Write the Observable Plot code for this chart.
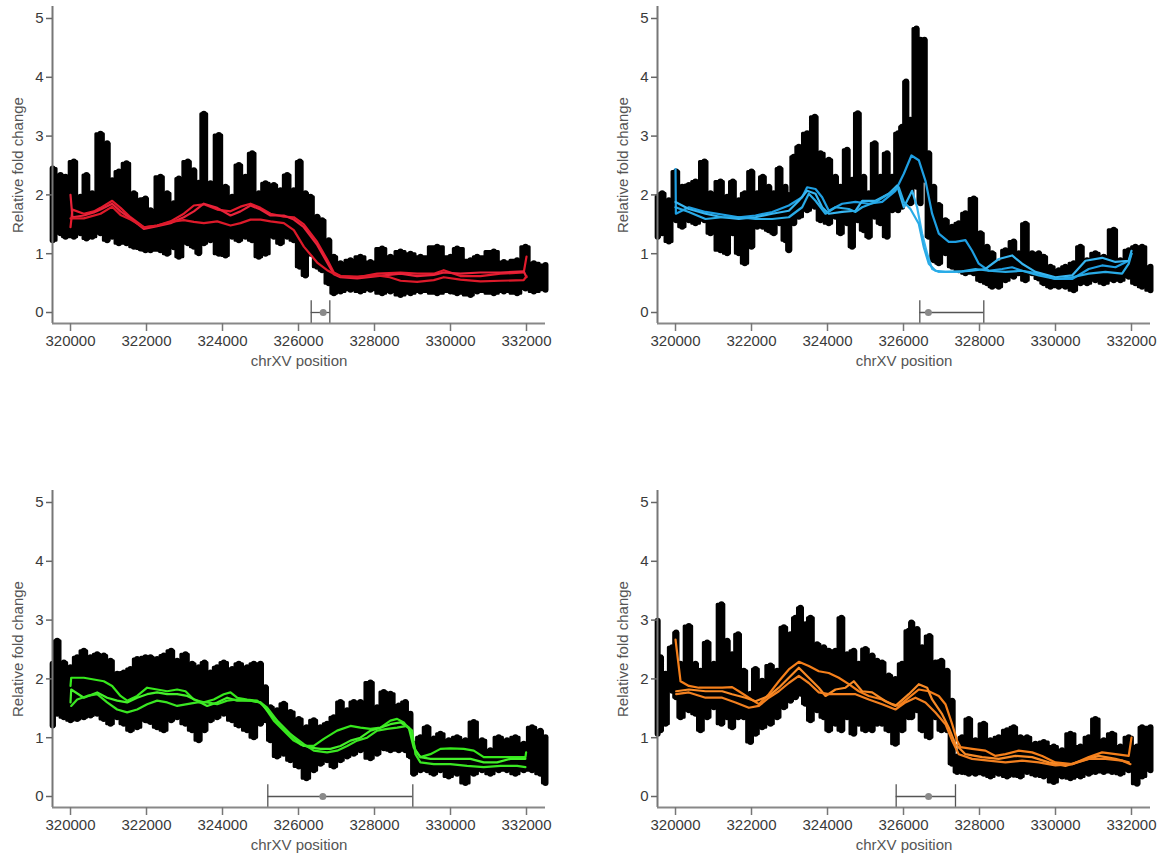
<!DOCTYPE html>
<html>
<head>
<meta charset="utf-8">
<script src="https://cdn.jsdelivr.net/npm/d3@7"></script>
<script src="https://cdn.jsdelivr.net/npm/@observablehq/plot@0.6"></script>
<style>
  html, body { margin: 0; padding: 0; background: #fff; }
  #wrap { position: relative; width: 1167px; height: 857px; overflow: hidden; background: #fff; }
  .panel { position: absolute; }
</style>
</head>
<body>
<div id="wrap"></div>
<script>
// ---------- shared labels / ticks ----------
const xTicks = [320000, 322000, 324000, 326000, 328000, 330000, 332000];
const yTicks = [0, 1, 2, 3, 4, 5];
const xLabel = "chrXV position";
const yLabel = "Relative fold change";

// ---------- panel 1 (red) ----------
// raw signal envelope: [position, low, high]
const p1Env = [
  [319530,1.22,2.44],[319737,1.34,2.33],[319869,1.28,2.30],[320088,1.28,2.56],[320263,1.34,1.96],
  [320421,1.25,2.33],[320570,1.28,2.02],[320790,1.34,3.03],[320965,1.22,2.87],[321097,1.28,2.24],
  [321272,1.17,2.39],[321474,1.17,2.53],[321667,1.11,2.02],[321842,1.08,1.90],[321974,1.05,1.93],
  [322105,1.05,1.73],[322368,1.05,2.30],[322544,0.99,2.02],[322719,1.10,1.85],[322851,0.94,2.27],
  [323088,1.17,2.56],[323246,1.11,2.41],[323377,1.00,2.20],[323509,1.17,3.37],[323684,1.22,2.19],
  [323904,0.99,3.01],[324079,0.96,2.13],[324254,1.28,1.96],[324430,1.22,2.50],[324605,1.28,2.30],
  [324781,1.22,2.70],[324956,0.94,2.02],[325132,0.99,2.19],[325351,1.28,2.16],[325526,1.17,2.07],
  [325702,1.28,2.33],[325877,1.22,2.07],[326035,0.77,2.56],[326184,0.62,2.02],[326316,0.99,1.96],
  [326491,0.77,1.62],[326623,0.71,1.56],[326798,0.49,1.22],[326930,0.32,0.94],[327105,0.35,0.83],
  [327368,0.38,0.88],[327630,0.35,0.94],[327893,0.38,0.85],[328200,0.32,1.08],[328420,0.35,0.94],
  [328684,0.29,1.03],[328948,0.32,0.99],[329211,0.35,0.94],[329649,0.32,1.11],[330000,0.35,0.94],
  [330175,0.32,1.08],[330526,0.29,0.88],[330702,0.35,0.94],[331140,0.32,1.03],[331404,0.35,0.85],
  [331754,0.32,0.88],[331973,0.40,1.11],[332193,0.35,0.83],[332500,0.38,0.80]
];
const p1Line1 = [
  [320000,1.45],[320050,1.75],[320350,1.68],[320614,1.72],[320790,1.78],[321097,1.90],[321316,1.78],
  [321579,1.62],[321930,1.45],[322281,1.48],[322632,1.55],[322982,1.68],[323246,1.82],[323509,1.84],
  [323860,1.75],[324210,1.72],[324473,1.80],[324737,1.85],[325000,1.78],[325263,1.68],[325614,1.63],
  [325877,1.62],[326140,1.50],[326491,1.20],[326754,0.90],[326930,0.68],[327105,0.62],[327544,0.60],
  [328070,0.66],[328684,0.68],[329121,0.66],[329560,0.66],[329823,0.72],[330261,0.62],[330787,0.62],
  [331314,0.66],[331927,0.68],[332000,0.95]
];
const p1Line2 = [
  [320000,2.00],[320050,1.62],[320351,1.65],[320614,1.70],[320790,1.75],[321097,1.85],[321316,1.72],
  [321579,1.60],[321930,1.42],[322281,1.47],[322632,1.52],[322982,1.62],[323246,1.72],[323509,1.85],
  [323860,1.78],[324210,1.65],[324473,1.72],[324737,1.82],[325000,1.75],[325263,1.65],[325614,1.65],
  [325877,1.58],[326140,1.45],[326491,1.15],[326754,0.85],[326930,0.65],[327105,0.60],[327544,0.58],
  [328070,0.62],[328684,0.66],[329121,0.62],[329560,0.64],[329823,0.68],[330261,0.66],[330787,0.68],
  [331314,0.68],[331927,0.70],[332000,0.60]
];
const p1Line3 = [
  [320000,1.60],[320351,1.60],[320790,1.68],[321097,1.80],[321316,1.66],[321579,1.58],[321930,1.45],
  [322281,1.48],[322632,1.54],[322982,1.57],[323246,1.54],[323509,1.52],[323860,1.55],[324210,1.48],
  [324473,1.52],[324737,1.58],[325000,1.58],[325263,1.55],[325614,1.52],[325877,1.40],[326140,1.12],
  [326491,0.85],[326754,0.72],[326930,0.66],[327105,0.62],[327544,0.61],[328070,0.63],[328400,0.60],
  [328684,0.54],[329121,0.52],[329560,0.55],[329823,0.60],[330261,0.56],[330787,0.53],[331314,0.54],
  [331927,0.55],[332000,0.62]
];

// ---------- panel 2 (blue) ----------
const p2Env = [
  [319530,1.28,1.96],[319649,1.34,2.02],[319825,1.20,1.90],[320018,1.56,2.39],[320176,1.45,2.13],
  [320351,1.56,2.16],[320526,1.51,2.22],[320763,1.56,2.56],[320921,1.34,2.02],[321184,1.05,2.22],
  [321360,1.00,1.96],[321509,1.34,2.22],[321667,1.00,1.90],[321824,0.83,2.02],[322000,1.11,2.39],
  [322149,1.45,2.02],[322298,1.45,2.30],[322456,1.39,2.13],[322587,1.34,2.02],[322737,1.51,2.44],
  [322894,1.22,2.13],[322982,1.05,1.99],[323114,1.51,2.64],[323245,1.62,2.81],[323464,1.73,3.04],
  [323666,1.79,3.32],[323815,1.56,2.70],[324035,1.51,2.59],[324210,1.62,2.30],[324341,1.34,2.13],
  [324517,1.51,2.76],[324648,1.11,2.25],[324797,1.56,3.38],[324955,1.39,2.30],[325087,1.28,2.02],
  [325245,1.62,2.87],[325394,1.51,2.30],[325569,1.28,2.70],[325701,1.73,2.30],[325859,1.73,3.04],
  [325964,1.79,3.15],[326069,1.90,3.92],[326183,1.85,3.27],[326341,2.13,4.82],[326446,1.85,4.63],
  [326551,2.25,4.63],[326665,1.28,2.70],[326797,0.88,2.13],[326929,0.83,1.82],[327104,1.00,1.56],
  [327280,0.77,1.45],[327455,0.71,1.51],[327630,0.66,1.68],[327850,0.66,1.93],[328025,0.54,1.34],
  [328200,0.49,1.11],[328332,0.43,1.00],[328507,0.43,0.83],[328683,0.54,1.05],[328901,0.60,1.20],
  [329033,0.66,1.00],[329208,0.54,1.50],[329385,0.66,1.00],[329560,0.57,1.00],[329691,0.49,0.94],
  [329867,0.43,0.77],[330086,0.43,0.71],[330261,0.43,0.77],[330480,0.37,0.83],[330656,0.49,1.11],
  [330831,0.49,0.88],[331050,0.54,1.00],[331270,0.49,0.94],[331533,0.54,1.40],[331708,0.54,0.88],
  [331927,0.60,1.05],[332103,0.49,1.11],[332278,0.43,1.11],[332500,0.37,0.77]
];
const p2Line1 = [
  [320000,2.44],[320010,1.68],[320351,1.79],[320790,1.71],[321667,1.62],[322105,1.65],[322544,1.71],
  [322982,1.82],[323333,1.96],[323464,2.13],[323684,2.10],[323859,1.96],[324035,1.73],[324385,1.85],
  [324736,1.88],[325087,1.85],[325438,1.88],[325788,2.07],[326008,2.36],[326209,2.67],[326402,2.59],
  [326578,2.24],[326753,1.68],[326929,1.34],[327192,1.20],[327367,1.20],[327630,1.23],[327805,1.05],
  [327981,0.83],[328244,0.71],[328595,0.74],[328858,0.77],[329121,0.71],[329560,0.66],[329998,0.57],
  [330437,0.57],[330875,0.74],[331226,0.80],[331577,0.77],[331927,0.88],[332000,1.00]
];
const p2Line2 = [
  [320000,1.88],[320351,1.76],[320790,1.68],[321228,1.62],[321667,1.59],[322105,1.62],[322544,1.68],
  [322982,1.73],[323245,1.90],[323464,2.07],[323684,2.02],[323859,1.79],[324035,1.68],[324385,1.71],
  [324736,1.73],[324911,1.90],[325262,1.90],[325613,2.02],[325832,2.16],[326008,1.79],[326227,2.07],
  [326358,1.79],[326490,1.34],[326622,1.00],[326753,0.74],[326929,0.69],[327367,0.69],[327805,0.71],
  [328156,0.74],[328507,0.91],[328858,0.97],[329121,0.83],[329472,0.69],[329998,0.60],[330437,0.63],
  [330788,0.88],[331226,0.93],[331577,0.86],[331927,0.88],[332000,1.05]
];
const p2Line3 = [
  [320000,1.79],[320351,1.71],[320790,1.59],[321228,1.62],[321667,1.62],[322105,1.59],[322544,1.59],
  [322982,1.62],[323333,1.79],[323508,2.02],[323684,1.90],[323947,1.68],[324210,1.79],[324561,1.76],
  [324736,1.71],[324911,1.79],[325262,1.88],[325613,2.02],[325876,2.13],[326008,1.88],[326183,1.76],
  [326402,1.51],[326534,1.11],[326665,0.83],[326841,0.71],[327104,0.69],[327542,0.70],[327893,0.74],
  [328244,0.71],[328683,0.69],[329121,0.71],[329560,0.63],[329998,0.57],[330437,0.60],[330875,0.66],
  [331314,0.69],[331752,0.66],[331927,0.83],[332000,1.00]
];

// ---------- panel 3 (green) ----------
const p3Env = [
  [319530,1.20,2.25],[319649,1.40,2.64],[319825,1.34,2.27],[320000,1.29,2.19],[320176,1.31,2.36],
  [320351,1.34,2.47],[320526,1.37,2.36],[320702,1.40,2.41],[320877,1.31,2.39],[321053,1.23,2.30],
  [321228,1.34,2.08],[321403,1.23,2.10],[321579,1.12,2.16],[321754,1.17,2.33],[321973,1.29,2.36],
  [322105,1.26,2.36],[322280,1.17,2.33],[322456,1.12,2.39],[322649,1.29,2.47],[322807,1.34,2.30],
  [323026,1.23,2.41],[323201,1.12,2.25],[323377,0.95,2.19],[323526,1.12,2.27],[323684,1.29,2.10],
  [323859,1.34,2.19],[324034,1.40,2.27],[324254,1.29,2.16],[324429,1.20,2.25],[324648,1.12,2.19],
  [324824,1.00,2.25],[324999,1.23,2.25],[325131,1.29,1.85],[325262,0.95,1.51],[325438,0.67,1.46],
  [325613,0.72,1.57],[325788,0.61,1.43],[326008,0.50,1.31],[326210,0.30,1.17],[326402,0.44,1.29],
  [326578,0.55,1.17],[326753,0.61,1.23],[326929,0.50,1.34],[327104,0.61,1.60],[327280,0.67,1.46],
  [327455,0.72,1.60],[327630,0.78,1.60],[327893,0.64,1.93],[328069,0.72,1.51],[328244,0.81,1.77],
  [328420,0.78,1.74],[328639,0.78,1.54],[328814,0.78,1.60],[328946,0.67,1.40],[329033,0.38,0.89],
  [329208,0.44,1.00],[329384,0.44,1.17],[329560,0.38,0.98],[329735,0.44,1.06],[329954,0.33,0.95],
  [330173,0.38,1.00],[330393,0.22,0.95],[330612,0.38,1.26],[330831,0.44,0.95],[331050,0.38,0.78],
  [331270,0.44,1.00],[331489,0.44,0.95],[331708,0.38,1.00],[331927,0.44,0.89],[332146,0.44,1.17],
  [332365,0.38,1.11],[332500,0.22,1.00]
];
const p3Line1 = [
  [320000,1.88],[320018,2.02],[320351,2.02],[320614,1.99],[320877,1.96],[321096,1.88],[321316,1.71],
  [321491,1.63],[321754,1.71],[322017,1.85],[322280,1.82],[322544,1.79],[322807,1.82],[323026,1.79],
  [323245,1.65],[323508,1.60],[323771,1.65],[324034,1.74],[324210,1.77],[324385,1.68],[324648,1.65],
  [324911,1.63],[325087,1.54],[325350,1.29],[325613,1.12],[325876,0.95],[326139,0.86],[326402,0.86],
  [326665,0.98],[327016,1.12],[327367,1.20],[327630,1.17],[327893,1.15],[328156,1.17],[328419,1.29],
  [328595,1.32],[328770,1.26],[328946,1.12],[329077,0.78],[329208,0.67],[329472,0.72],[329735,0.81],
  [329998,0.82],[330349,0.81],[330612,0.78],[330875,0.67],[331226,0.67],[331577,0.67],[331972,0.67],
  [331990,0.75]
];
const p3Line2 = [
  [320000,1.60],[320018,1.82],[320351,1.68],[320702,1.77],[320965,1.68],[321228,1.63],[321491,1.60],
  [321754,1.68],[322017,1.74],[322280,1.77],[322544,1.74],[322807,1.74],[323070,1.71],[323333,1.63],
  [323596,1.54],[323859,1.60],[324122,1.68],[324385,1.63],[324736,1.63],[324999,1.60],[325262,1.40],
  [325525,1.23],[325788,1.06],[326051,0.89],[326314,0.83],[326578,0.81],[326841,0.81],[327104,0.86],
  [327367,0.95],[327630,1.00],[327893,1.12],[328156,1.17],[328419,1.23],[328683,1.26],[328902,1.17],
  [329033,0.83],[329208,0.67],[329472,0.64],[329823,0.64],[330173,0.64],[330524,0.64],[330875,0.58],
  [331226,0.58],[331577,0.64],[331972,0.64]
];
const p3Line3 = [
  [320018,1.54],[320176,1.65],[320439,1.71],[320702,1.74],[320965,1.60],[321228,1.48],[321491,1.43],
  [321754,1.48],[322017,1.57],[322280,1.63],[322544,1.60],[322807,1.54],[323070,1.57],[323333,1.60],
  [323596,1.60],[323859,1.57],[324122,1.63],[324385,1.65],[324736,1.63],[324999,1.60],[325175,1.51],
  [325438,1.29],[325788,1.06],[326139,0.89],[326402,0.78],[326753,0.75],[327016,0.78],[327280,0.86],
  [327542,0.95],[327805,1.00],[328069,1.12],[328332,1.15],[328595,1.17],[328858,1.20],[328990,1.12],
  [329077,0.72],[329208,0.58],[329560,0.55],[329998,0.55],[330437,0.52],[330875,0.50],[331314,0.52],
  [331752,0.52],[331972,0.50]
];

// ---------- panel 4 (orange) ----------
const p4Env = [
  [319530,1.06,2.98],[319606,1.12,2.36],[319737,1.23,2.08],[319913,1.79,2.53],[320018,1.68,2.78],
  [320132,1.34,2.25],[320351,1.46,2.89],[320526,1.40,2.25],[320658,1.12,2.13],[320833,1.34,2.61],
  [321009,1.51,2.25],[321210,1.23,3.26],[321360,1.34,2.64],[321491,1.17,2.41],[321649,1.34,2.75],
  [321798,1.34,2.13],[321973,0.92,1.74],[322105,1.06,2.16],[322280,1.17,1.96],[322500,1.23,2.22],
  [322675,1.34,2.13],[322851,1.51,2.87],[323026,1.62,2.75],[323157,1.68,3.03],[323289,1.74,3.20],
  [323420,1.57,2.92],[323552,1.29,3.03],[323727,1.46,2.58],[323903,1.34,2.53],[324034,1.12,2.47],
  [324210,1.23,2.47],[324368,1.12,3.03],[324517,1.34,2.41],[324692,1.06,2.47],[324824,1.23,2.25],
  [324999,1.12,2.50],[325175,1.12,2.39],[325306,1.23,2.30],[325438,1.23,2.27],[325613,1.12,2.05],
  [325788,0.89,1.99],[325964,1.12,2.25],[326139,1.34,2.81],[326209,1.34,2.95],[326358,1.46,2.84],
  [326490,1.12,2.53],[326683,1.00,2.72],[326841,1.34,2.27],[326999,1.12,2.30],[327148,1.12,2.13],
  [327280,0.55,1.62],[327411,0.41,0.67],[327542,0.41,1.00],[327718,0.38,1.31],[327893,0.38,0.95],
  [328112,0.38,1.23],[328288,0.33,0.95],[328507,0.38,1.00],[328726,0.33,1.12],[328902,0.36,1.17],
  [329077,0.33,1.00],[329252,0.41,1.00],[329472,0.36,0.89],[329691,0.33,0.92],[329954,0.24,0.84],
  [330173,0.33,0.78],[330393,0.30,1.06],[330656,0.33,0.84],[330875,0.38,1.00],[331050,0.41,1.31],
  [331270,0.41,0.95],[331489,0.41,1.06],[331708,0.38,0.84],[331927,0.44,1.00],[332146,0.21,0.84],
  [332278,0.33,1.17],[332500,0.44,1.17]
];
const p4Line1 = [
  [320000,2.67],[320132,1.96],[320351,1.88],[320614,1.85],[320877,1.85],[321228,1.85],[321491,1.86],
  [321667,1.79],[321930,1.68],[322193,1.57],[322456,1.74],[322719,1.96],[322982,2.16],[323245,2.29],
  [323508,2.22],[323771,2.13],[324034,2.10],[324297,2.02],[324561,1.91],[324824,1.79],[325087,1.71],
  [325438,1.65],[325701,1.57],[325876,1.54],[326139,1.68],[326402,1.82],[326665,1.79],[326929,1.71],
  [327104,1.57],[327280,1.23],[327411,0.95],[327499,0.84],[327805,0.81],[328156,0.78],[328419,0.69],
  [328683,0.72],[329033,0.78],[329385,0.75],[329648,0.69],[329998,0.58],[330437,0.55],[330875,0.67],
  [331226,0.75],[331577,0.72],[331927,0.69],[332000,1.00]
];
const p4Line2 = [
  [320018,1.79],[320351,1.82],[320790,1.79],[321228,1.79],[321491,1.74],[321842,1.68],[322105,1.62],
  [322456,1.71],[322719,1.85],[322982,2.02],[323245,2.19],[323508,2.02],[323771,1.85],[323947,1.71],
  [324210,1.82],[324473,1.85],[324692,1.96],[324911,1.79],[325175,1.77],[325525,1.62],[325788,1.54],
  [326139,1.74],[326402,1.91],[326622,1.85],[326753,1.65],[327016,1.40],[327192,1.17],[327367,0.89],
  [327630,0.72],[328069,0.67],[328507,0.64],[328946,0.69],[329385,0.67],[329823,0.58],[330261,0.52],
  [330700,0.61],[331138,0.69],[331577,0.64],[331927,0.58]
];
const p4Line3 = [
  [320018,1.74],[320351,1.77],[320790,1.68],[321228,1.68],[321579,1.60],[321930,1.51],[322193,1.54],
  [322456,1.68],[322719,1.79],[322982,1.93],[323245,2.05],[323508,1.93],[323771,1.77],[324034,1.74],
  [324385,1.74],[324736,1.74],[325087,1.65],[325438,1.57],[325788,1.48],[326051,1.60],[326314,1.68],
  [326578,1.60],[326841,1.43],[327104,1.23],[327280,0.95],[327455,0.72],[327805,0.64],[328244,0.61],
  [328683,0.58],[329121,0.61],[329560,0.58],[329998,0.53],[330437,0.55],[330875,0.64],[331314,0.64],
  [331752,0.61],[331972,0.55]
];

// ---------- interval markers at y = 0: [left, centre, right] ----------
const intervals = [
  [326334, 326650, 326824],
  [326429, 326655, 328113],
  [325192, 326640, 329008],
  [325807, 326660, 327368]
];
const lineColors = [
  ["#e31b2d", "#e8233a", "#dd1a2a"],
  ["#1f9fe2", "#37b5f0", "#29abe6"],
  ["#36e81c", "#44f02a", "#3ae622"],
  ["#f57f1a", "#f88a26", "#f28020"]
];

// ---------- drawing ----------
const X_DOMAIN = [319526, 332500];
const Y_DOMAIN = [-0.187, 5.204];
const FONT = "'Liberation Sans', Arial, Helvetica, sans-serif";

function makePanel(env, lines, colors, iv) {
  const envData = env.map(([x, lo, hi]) => ({x, lo, hi}));
  const marks = [
    Plot.areaY(envData, {x: "x", y1: "lo", y2: "hi", fill: "#000", stroke: "#000", strokeWidth: 3, strokeLinejoin: "round", curve: "step"}),
    Plot.ruleX(envData, {x: "x", y1: "lo", y2: "hi", stroke: "#000", strokeWidth: 6, strokeLinecap: "round"})
  ];
  lines.forEach((pts, i) => {
    marks.push(Plot.line(pts, {x: d => d[0], y: d => d[1], stroke: colors[i], strokeWidth: 2.2, strokeLinejoin: "round"}));
  });
  marks.push(
    Plot.ruleY([{y: 0, x1: iv[0], x2: iv[2]}], {y: "y", x1: "x1", x2: "x2", stroke: "#555", strokeWidth: 1.3}),
    Plot.ruleX([iv[0], iv[2]], {x: d => d, y1: Y_DOMAIN[0], y2: 0.2, stroke: "#555", strokeWidth: 1.3}),
    Plot.dot([iv[1]], {x: d => d, y: 0, r: 3.5, fill: "#8a8a8a", stroke: "none"}),
    Plot.ruleX([X_DOMAIN[0]], {stroke: "#777", strokeWidth: 2}),
    Plot.ruleY([Y_DOMAIN[0]], {stroke: "#888", strokeWidth: 2}),
    Plot.axisY({ticks: yTicks, tickFormat: d3.format("d"), tickSize: 6, tickPadding: 3, fontSize: 15, stroke: "#666", strokeWidth: 1.5, fill: "#3a3a3a", label: null}),
    Plot.axisX({ticks: xTicks, tickFormat: d3.format("d"), tickSize: 8, tickPadding: 4, fontSize: 15, stroke: "#777", strokeWidth: 1.5, fill: "#3a3a3a", label: null}),
    Plot.text([yLabel], {frameAnchor: "left", dx: -34, rotate: -90, text: d => d, textAnchor: "middle", lineAnchor: "middle", fontSize: 15, fill: "#555"}),
    Plot.text([xLabel], {frameAnchor: "bottom", dy: 38, text: d => d, textAnchor: "middle", lineAnchor: "middle", fontSize: 15, fill: "#555"})
  );
  return Plot.plot({
    width: 561, height: 375,
    marginLeft: 52, marginRight: 16, marginTop: 6, marginBottom: 52,
    x: {domain: X_DOMAIN},
    y: {domain: Y_DOMAIN},
    style: {fontFamily: FONT, fontSize: "15px", background: "white", overflow: "visible"},
    marks
  });
}

const panels = [
  {env: p1Env, lines: [p1Line1, p1Line2, p1Line3], colors: lineColors[0], iv: intervals[0], left: 0, top: 0},
  {env: p2Env, lines: [p2Line1, p2Line2, p2Line3], colors: lineColors[1], iv: intervals[1], left: 605, top: 0},
  {env: p3Env, lines: [p3Line1, p3Line2, p3Line3], colors: lineColors[2], iv: intervals[2], left: 0, top: 484},
  {env: p4Env, lines: [p4Line1, p4Line2, p4Line3], colors: lineColors[3], iv: intervals[3], left: 605, top: 484}
];

const wrap = document.getElementById("wrap");
for (const p of panels) {
  const div = document.createElement("div");
  div.className = "panel";
  div.style.left = p.left + "px";
  div.style.top = p.top + "px";
  div.appendChild(makePanel(p.env, p.lines, p.colors, p.iv));
  wrap.appendChild(div);
}
</script>
</body>
</html>
